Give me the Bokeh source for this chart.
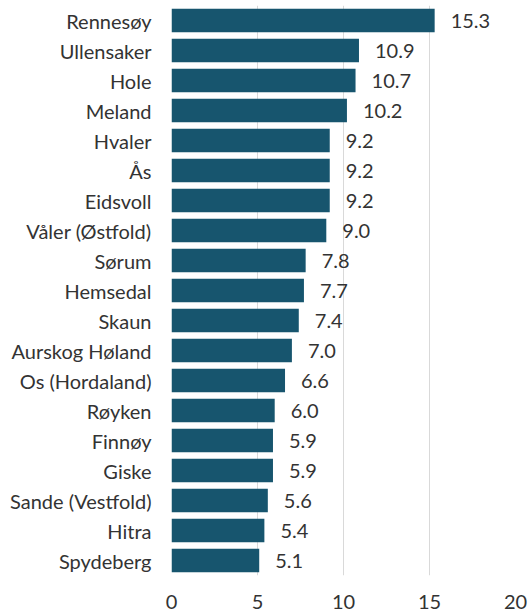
from bokeh.plotting import figure
from bokeh.models import ColumnDataSource, Range1d, FixedTicker
from bokeh.core.properties import value
from bokeh.embed import file_html
from bokeh.resources import INLINE

municipalities = ["Rennesøy", "Ullensaker", "Hole", "Meland", "Hvaler", "Ås", "Eidsvoll",
                  "Våler (Østfold)", "Sørum", "Hemsedal", "Skaun", "Aurskog Høland",
                  "Os (Hordaland)", "Røyken", "Finnøy", "Giske", "Sande (Vestfold)",
                  "Hitra", "Spydeberg"]
values = [15.3, 10.9, 10.7, 10.2, 9.2, 9.2, 9.2, 9.0, 7.8, 7.7, 7.4, 7.0, 6.6, 6.0,
          5.9, 5.9, 5.6, 5.4, 5.1]
x_ticks = [0, 5, 10, 15, 20]

idx = list(range(len(municipalities)))
src = ColumnDataSource(dict(y=idx, v=values, lab=[f"{v:.1f}" for v in values]))

FONT = "Lato"
p = figure(width=528, height=612, output_backend="svg", toolbar_location=None,
           x_range=Range1d(0, 20), y_range=Range1d(len(idx) - 0.5, -0.5),
           min_border_left=171, min_border_right=13, min_border_top=5, min_border_bottom=37)
p.outline_line_color = None
p.background_fill_color = "white"

p.hbar(y="y", right="v", left=0, height=0.78, source=src,
       fill_color="#17556e", line_color=None)
p.text(x="v", y="y", text="lab", source=src, x_offset=16,
       text_align="left", text_baseline="middle",
       text_font=value(FONT), text_font_size="20px", text_color="#333333")

p.xaxis.ticker = FixedTicker(ticks=x_ticks)
p.yaxis.ticker = FixedTicker(ticks=idx)
p.yaxis.major_label_overrides = {i: m for i, m in enumerate(municipalities)}
for ax in (p.xaxis[0], p.yaxis[0]):
    ax.axis_line_color = None
    ax.major_tick_line_color = None
    ax.minor_tick_line_color = None
    ax.major_label_text_font = FONT
    ax.major_label_text_font_size = "20px"
    ax.major_label_text_color = "#333333"
p.yaxis.major_label_standoff = 14
p.xaxis.major_label_standoff = 13

p.xgrid.grid_line_color = "#d9d9d9"
p.xgrid.grid_line_width = 1
p.ygrid.grid_line_color = None

open("out.html", "w").write(file_html(p, INLINE))
